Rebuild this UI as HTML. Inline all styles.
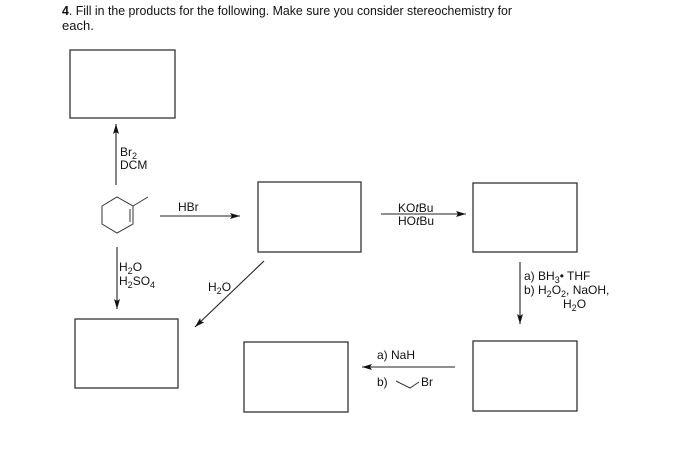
<!DOCTYPE html>
<html><head><meta charset="utf-8"><style>
html,body{margin:0;padding:0;background:#fff;}
svg{display:block;}
text{font-family:"Liberation Sans",sans-serif;fill:#111;}
</style></head><body>
<svg width="700" height="466" viewBox="0 0 700 466" xmlns="http://www.w3.org/2000/svg">
<defs><marker id="a" viewBox="0 0 10 6" refX="10" refY="3" markerWidth="10" markerHeight="6" markerUnits="userSpaceOnUse" orient="auto"><path d="M0,0 L10,3 L0,6 L2,3z" fill="#111"/></marker></defs>
<text x="62" y="15" font-size="13" textLength="450" lengthAdjust="spacingAndGlyphs"><tspan font-weight="bold">4</tspan>.  Fill in the products for the following. Make sure you consider stereochemistry for</text>
<text x="62" y="30" font-size="13">each.</text>
<g fill="none" stroke="#333" stroke-width="1.3">
<rect x="70" y="50" width="105" height="68"/>
<rect x="258" y="182" width="103" height="70"/>
<rect x="473" y="183" width="104" height="69"/>
<rect x="75" y="319" width="103" height="69"/>
<rect x="244" y="342" width="104" height="70"/>
<rect x="473" y="341" width="104" height="70"/>
</g>
<g fill="none" stroke="#333" stroke-width="1">
<path d="M117,197 L133,206 L133,224 L117,233 L102,224 L102,206 Z M133,206 L148,197 M130,209 L130,222"/>
</g>
<g stroke="#222" stroke-width="1.1" marker-end="url(#a)">
<line x1="116" y1="185" x2="116" y2="124"/>
<line x1="160" y1="216" x2="240" y2="216"/>
<line x1="117" y1="247" x2="117" y2="309"/>
<line x1="264" y1="261" x2="195" y2="327"/>
<line x1="381" y1="214" x2="466" y2="214"/>
<line x1="520" y1="262" x2="520" y2="324"/>
<line x1="455" y1="367" x2="362" y2="367"/>
</g>
<g font-size="12">
<text x="120" y="156">Br<tspan font-size="9" dy="3">2</tspan></text>
<text x="120" y="169">DCM</text>
<text x="178" y="211">HBr</text>
<text x="119" y="271">H<tspan font-size="9" dy="3">2</tspan><tspan dy="-3">O</tspan></text>
<text x="119" y="285">H<tspan font-size="9" dy="3">2</tspan><tspan dy="-3">SO</tspan><tspan font-size="9" dy="3">4</tspan></text>
<text x="208" y="291">H<tspan font-size="9" dy="3">2</tspan><tspan dy="-3">O</tspan></text>
<text x="398" y="212">KO<tspan font-style="italic">t</tspan>Bu</text>
<text x="398" y="225">HO<tspan font-style="italic">t</tspan>Bu</text>
<text x="524" y="280">a) BH<tspan font-size="9" dy="3">3</tspan><tspan dy="-3">• THF</tspan></text>
<text x="524" y="294">b) H<tspan font-size="9" dy="3">2</tspan><tspan dy="-3">O</tspan><tspan font-size="9" dy="3">2</tspan><tspan dy="-3">, NaOH,</tspan></text>
<text x="563" y="308">H<tspan font-size="9" dy="3">2</tspan><tspan dy="-3">O</tspan></text>
<text x="377" y="359">a) NaH</text>
<text x="377" y="386">b)</text>
<text x="421" y="386">Br</text>
</g>
<path d="M396,381 L410,388 L419,382" fill="none" stroke="#333" stroke-width="1"/>
</svg>
</body></html>
